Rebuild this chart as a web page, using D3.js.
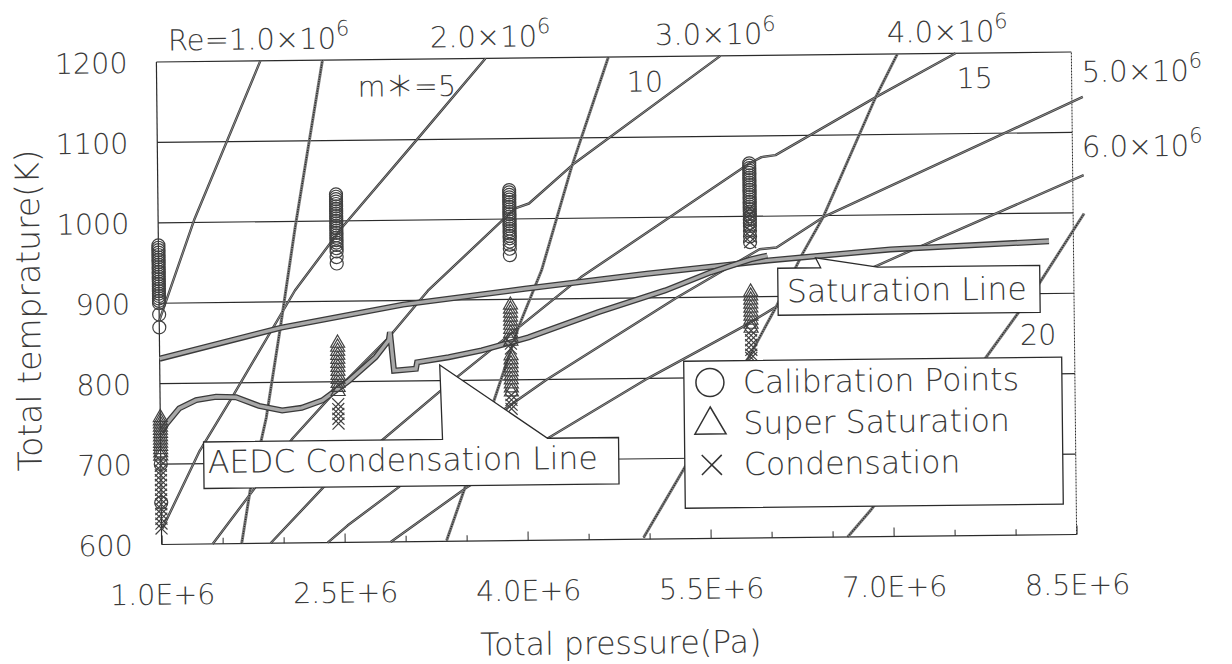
<!DOCTYPE html>
<html><head><meta charset="utf-8">
<script src="https://cdn.jsdelivr.net/npm/d3@7"></script>
<style>html,body{margin:0;padding:0;background:#fff;} svg{display:block;}</style>
</head><body>
<svg id="chart" width="1232" height="664"></svg>
<script>
// ---------------- DATA (pressure in units of 1E+6 Pa, temperature in K) ----------------
const xMajorTicks = [1.0, 2.5, 4.0, 5.5, 7.0, 8.5];
const xMinorTicks = [1.5, 2.0, 3.0, 3.5, 4.5, 5.0, 6.0, 6.5, 7.5, 8.0];
const yTicks = [600, 700, 800, 900, 1000, 1100, 1200];

// constant Reynolds number lines
const re1 = [[1.0,878],[1.295,1003],[1.852,1200]];
const re2 = [[1.008,620],[1.32,716],[1.59,782],[2.115,914],[2.508,992],[3.123,1099],[3.697,1200]];
const re3 = [[1.418,600],[1.754,666],[2.082,730],[2.443,789],[2.877,854],[3.205,912],[3.926,1013],[4.041,1019],[4.418,1068.5],[5.623,1200]];
const re4 = [[1.893,600],[2.328,668.5],[2.607,700.5],[3.402,800],[4.459,926.5],[5.853,1066],[5.951,1073.5],[6.066,1075.8],[6.894,1146.6],[7.55,1200]];
const re5 = [[2.361,600],[2.525,621],[2.943,667.5],[3.205,699.5],[4.172,800],[5.246,900],[5.926,959],[6.066,961],[6.451,998],[8.59,1144]];
const re6 = [[2.877,600],[3.508,667],[4.189,728],[5.0,800],[5.804,864.5],[6.049,886.5],[6.894,937.4],[7.172,955.6],[8.59,1046.7]];

// constant m* lines
const m5  = [[1.656,600],[1.73,666],[1.869,756.5],[1.992,868],[2.123,993],[2.361,1200]];
const m10 = [[3.336,601],[3.492,667],[3.943,865],[4.139,936],[4.394,1064],[4.705,1200]];
const m15 = [[4.951,602],[5.279,685],[5.83,825],[6.05,885],[6.279,953],[6.451,998],[6.894,1147],[7.074,1200]];
const m20 = [[6.623,600],[6.812,632.5],[7.771,821],[8.025,873],[8.222,914],[8.59,999]];

const saturation = [[1.0,831],[2.0,868],[3.0,895],[4.0,913],[5.0,930],[6.0,945],[7.0,957],[8.3,965]];
const aedc = [[1.008,740],[1.05,750],[1.156,769],[1.295,779],[1.459,783],[1.623,782],[1.81,771],[2.0,765],[2.16,768],[2.33,777],[2.55,801],[2.77,830],[2.88,851],[2.89,861],[2.92,813],[3.10,815],[3.11,823],[3.37,829],[3.64,837],[4.025,852.5],[4.6,883],[5.15,909],[5.525,931],[5.853,946.6],[5.99,951]];

// measurement columns
const columnP = [1.0, 2.46, 3.88, 5.85];
const calibrationT = [
  [972,969,966,963,960,957,954,951,948,945,942,939,936,933,930,927,924,921,918,915,912,909,906,903,900,886,870,700,652],
  [1033,1030,1027,1024,1021,1018,1015,1012,1009,1006,1003,1000,997,994,991,988,985,982,979,976,973,970,966,962,955,947],
  [1036,1033,1030,1027,1024,1021,1018,1015,1012,1009,1006,1003,1000,997,994,991,988,985,982,979,976,972,968,963,955],
  [1066,1063,1060,1057,1054,1051,1048,1045,1042,1039,1036,1033,1030,1027,1024,1021,1018,1015,1012,1009,1006,1003,1000,996,992,988,982,975,968]
];
const superSatT = [
  [758,754,750,746,742,738,734,730,726,722,718,714,710],
  [848,843,838,833,828,823,818,813,808,803,798,793,788],
  [893,888,883,878,873,868,863,858,853,848,830,825,820,815,810,805,800,795,790,785],
  [906,901,896,891,886,881,876,871,866,861]
];
const condensationT = [
  [704,698,692,686,680,674,668,662,656,650,644,638,632,626,620],
  [772,766,760,754,748],
  [845,839,781,775,769,764],
  [1010,1003,996,989,982,975,968,858,852,846,840,834,828,824]
];

const reLabels = ["Re=1.0×10", "2.0×10", "3.0×10", "4.0×10", "5.0×10", "6.0×10"];
const mLabels = ["m＊=5", "10", "15", "20"];
const legendLabels = ["Calibration Points", "Super Saturation", "Condensation"];

// ---------------- DRAWING ----------------
const FONT = "'DejaVu Sans', 'Noto Sans CJK JP', sans-serif";
const ink = "#2b2b2b";
const textInk = "#3a3a3a";
const svg = d3.select("#chart");
svg.append("rect").attr("width",1232).attr("height",664).attr("fill","#fff");
const root = svg.append("g").attr("transform","rotate(-0.626,616,298)");

const x = d3.scaleLinear().domain([1.0, 8.5]).range([159, 1074]);
const y = d3.scaleLinear().domain([600, 1200]).range([539.5, 57]);
const line = d3.line().x(d => x(d[0])).y(d => y(d[1]));

// gridlines
root.append("g").selectAll("line").data(yTicks).join("line")
  .attr("x1", x(1.0)).attr("x2", x(8.5))
  .attr("y1", d => y(d)).attr("y2", d => y(d))
  .attr("stroke", ink).attr("stroke-width", 1.2);
// frame
root.append("line").attr("x1", x(1.0)).attr("x2", x(1.0)).attr("y1", y(600)).attr("y2", y(1200))
  .attr("stroke", ink).attr("stroke-width", 1.2);
root.append("line").attr("x1", x(8.5)).attr("x2", x(8.5)).attr("y1", y(600)).attr("y2", y(1200))
  .attr("stroke", ink).attr("stroke-width", 1).attr("stroke-dasharray", "2,1");

// x axis ticks (inward) + labels
const axMinor = root.append("g").attr("transform", `translate(0,${y(600)})`)
  .call(d3.axisBottom(x).tickValues(xMinorTicks).tickSize(-6).tickFormat(""));
const axMajor = root.append("g").attr("transform", `translate(0,${y(600)})`)
  .call(d3.axisBottom(x).tickValues(xMajorTicks).tickSize(-9).tickPadding(40)
        .tickFormat(d => d.toFixed(1) + "E+6"));
[axMinor, axMajor].forEach(g => {
  g.select(".domain").remove();
  g.selectAll("line").attr("stroke", ink).attr("stroke-width", 1);
  g.selectAll("text").attr("font-family", FONT).attr("font-size", 28.5).attr("font-weight", 200).attr("fill", textInk);
});
// y axis labels
const axY = root.append("g").attr("transform", `translate(${x(1.0)},0)`)
  .call(d3.axisLeft(y).tickValues(yTicks).tickSize(0).tickPadding(29).tickFormat(d3.format("d")));
axY.select(".domain").remove();
axY.selectAll("text").attr("font-family", FONT).attr("font-size", 28.5).attr("font-weight", 200).attr("fill", textInk).attr("dy", "0.36em");

// Re lines
const reG = root.append("g").attr("fill", "none");
[re1, re2, re3, re4, re5, re6].forEach(s => {
  reG.append("path").attr("d", line(s)).attr("stroke", "#3c3c3c").attr("stroke-width", 2.4).attr("stroke-linejoin","round");
  reG.append("path").attr("d", line(s)).attr("stroke", "#a0a0a0").attr("stroke-width", 0.8);
});
// m* lines (stippled)
const mG = root.append("g").attr("fill", "none");
[m5, m10, m15, m20].forEach(s => {
  mG.append("path").attr("d", line(s)).attr("stroke", "#7a7a7a").attr("stroke-width", 3);
  mG.append("path").attr("d", line(s)).attr("stroke", "#1e1e1e").attr("stroke-width", 1.3).attr("stroke-dasharray", "1,1.4");
});
// thick saturation & AEDC lines
[saturation, aedc].forEach(s => {
  root.append("path").attr("d", line(s)).attr("fill","none").attr("stroke", "#3a3a3a").attr("stroke-width", 6).attr("stroke-linejoin","miter");
  root.append("path").attr("d", line(s)).attr("fill","none").attr("stroke", "#a8a8a8").attr("stroke-width", 3.4).attr("stroke-linejoin","miter");
});

// markers
const mk = root.append("g").attr("fill", "none").attr("stroke", "#404040").attr("stroke-width", 1.2);
const tri = d3.symbol().type(d3.symbolTriangle).size(85);
columnP.forEach((p, i) => {
  const cx = x(p);
  calibrationT[i].forEach(t => mk.append("circle").attr("cx", cx).attr("cy", y(t)).attr("r", 6.5));
  superSatT[i].forEach(t => mk.append("path").attr("d", tri()).attr("transform", `translate(${cx},${y(t)})`));
  condensationT[i].forEach(t => {
    const cy = y(t);
    mk.append("path").attr("d", `M${cx-6},${cy-6}L${cx+6},${cy+6}M${cx-6},${cy+6}L${cx+6},${cy-6}`);
  });
});

// callout boxes
const boxStyle = sel => sel.attr("fill", "#fff").attr("stroke", ink).attr("stroke-width", 1.3).attr("stroke-linejoin","miter");
root.append("path").call(boxStyle)
  .attr("d", "M778,270 L821,270 L816,260 L878,270 L1040,270 L1040,317 L778,317 Z");
root.append("path").call(boxStyle)
  .attr("d", "M202,437.5 L441,437.5 L439,363 L546,437.5 L617,437.5 L617,484 L202,484 Z");
root.append("rect").call(boxStyle).attr("x", 683).attr("y", 362).attr("width", 378).attr("height", 147);

const txt = (xx, yy, s, size, anchor) => root.append("text").attr("x", xx).attr("y", yy)
  .attr("font-family", FONT).attr("font-size", size).attr("font-weight", 200).attr("fill", textInk)
  .attr("text-anchor", anchor || "start").text(s);

txt(787, 304, "Saturation Line", 31.5);
txt(206, 468.5, "AEDC Condensation Line", 31.5);

// legend
const lg = root.append("g").attr("fill", "none").attr("stroke", "#333").attr("stroke-width", 1.5);
lg.append("circle").attr("cx", 709).attr("cy", 383.5).attr("r", 14);
lg.append("path").attr("d", d3.symbol().type(d3.symbolTriangle).size(420)()).attr("transform", "translate(709,426)");
lg.append("path").attr("d", "M700,456L720,476M700,476L720,456");
legendLabels.forEach((s, i) => txt(742, 394.4 + i * 41, s, 31.5));

// Re labels (with superscript 6)
const rePos = [[170.7,45.5],[432.7,45.5],[657.8,45.5],[889.8,45.5],[1084,87],[1083.5,162]];
reLabels.forEach((s, i) => {
  const t = txt(rePos[i][0], rePos[i][1], s, 29);
  t.append("tspan").attr("font-size", 21).attr("dy", -13).text("6");
});
// m* labels
const mPos = [[360,94],[629,92],[959,92],[1019.5,349.4]];
mLabels.forEach((s, i) => txt(mPos[i][0], mPos[i][1], s, 28.5));

// axis titles
txt(617, 654, "Total pressure(Pa)", 31.5, "middle");
root.append("text").attr("transform", "translate(40,304) rotate(-90)")
  .attr("font-family", FONT).attr("font-size", 33).attr("font-weight", 200).attr("fill", textInk)
  .attr("text-anchor", "middle").text("Total temprature(K)");
</script>
</body></html>
